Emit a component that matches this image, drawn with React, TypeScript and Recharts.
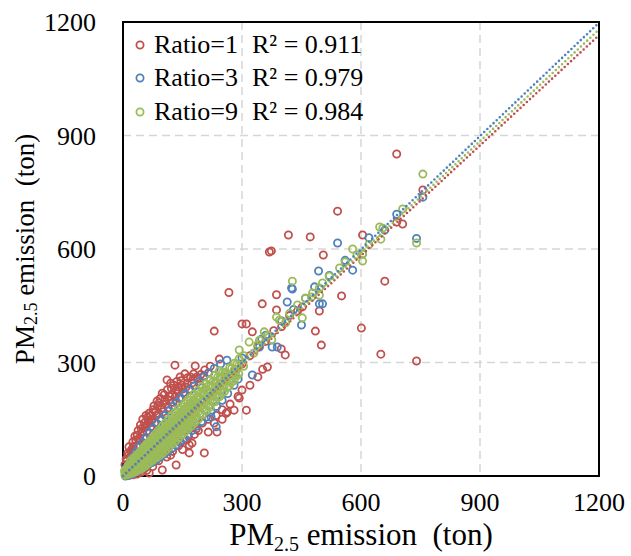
import {
  ScatterChart,
  Scatter,
  XAxis,
  YAxis,
  CartesianGrid,
  ReferenceArea,
  Legend,
} from "recharts";

const axisTicks = [0, 300, 600, 900, 1200];

const seriesNames = ["Ratio=1", "Ratio=3", "Ratio=9"];
const rSquared = ["R² = 0.911", "R² = 0.979", "R² = 0.984"];
const seriesColors = ["#C0504D", "#4F81BD", "#9BBB59"];

// Ratio=1 (red): wide cloud around the diagonal
const ratio1: [number, number][] = [
  [10, 10], [25, 25], [45, 45], [60, 62], [80, 78], [100, 102], [120, 118], [140, 142],
  [160, 158], [180, 182], [200, 198], [220, 222], [240, 238], [260, 262], [280, 276],
  [300, 296], [320, 318], [340, 342], [360, 356], [380, 384], [400, 395], [420, 424], [440, 436],
  [5, 30], [8, 45], [12, 60], [15, 77], [18, 50], [22, 70], [25, 90], [28, 62], [30, 105],
  [34, 80], [38, 120], [40, 95], [44, 135], [48, 114], [50, 150], [52, 100], [55, 128],
  [58, 160], [60, 118], [64, 145], [66, 166], [70, 130], [73, 148], [76, 175], [80, 140],
  [84, 160], [88, 185], [91, 193], [95, 150], [99, 219], [102, 170], [106, 200], [111, 254],
  [114, 180], [118, 210], [122, 232], [126, 195], [131, 293], [134, 227], [139, 235],
  [142, 205], [146, 252], [149, 240], [152, 220], [159, 235], [163, 260], [168, 230],
  [174, 246], [176, 256], [182, 291], [186, 262], [194, 240], [204, 265], [215, 272],
  [10, 40], [14, 55], [20, 65], [26, 78], [32, 95], [36, 108], [42, 100], [46, 125],
  [50, 118], [54, 140], [58, 132], [62, 155], [66, 140], [70, 160], [74, 150], [78, 185],
  [82, 172], [86, 198], [90, 165], [94, 205], [98, 180], [104, 215], [108, 190], [112, 228],
  [116, 200], [120, 245], [124, 215], [128, 240], [132, 210], [136, 250], [140, 222],
  [144, 262], [150, 230], [156, 270], [162, 245], [170, 262], [178, 270], [188, 258],
  [196, 268], [206, 280], [220, 290],
  [243, 309], [230, 383], [267, 485], [300, 402], [311, 402], [326, 381], [351, 455],
  [364, 288], [369, 592], [387, 479], [399, 336], [409, 320],
  [15, 2], [25, 3], [35, 5], [45, 10], [60, 15], [75, 25], [90, 40], [110, 50], [125, 65],
  [145, 88], [165, 105], [185, 125], [200, 140], [215, 150], [235, 160], [250, 175],
  [270, 190], [290, 210],
  [20, 5], [30, 8], [40, 12], [55, 20], [66, 8], [70, 35], [85, 45], [99, 16], [105, 60],
  [120, 55], [134, 29], [140, 80], [150, 70], [160, 95], [167, 61], [167, 82], [174, 87],
  [180, 110], [190, 120], [205, 61], [215, 116], [237, 116], [230, 140], [250, 150],
  [260, 166], [263, 169], [280, 174], [293, 206], [300, 227], [311, 174], [320, 240],
  [340, 262], [352, 282],
  [387, 439], [417, 637], [452, 447], [472, 632], [485, 383], [495, 436], [500, 346],
  [505, 584], [541, 700], [551, 476], [601, 391], [604, 637], [650, 322], [660, 515],
  [690, 671], [690, 851], [705, 666], [740, 304], [756, 756], [374, 595],
];

// Ratio=3 (blue)
const ratio3: [number, number][] = [
  [6, 0], [8, 22], [14, 2], [16, 34], [24, 6], [24, 48], [34, 12], [32, 62], [44, 18],
  [40, 76], [54, 24], [50, 88], [64, 30], [58, 102], [74, 36], [66, 114], [84, 42],
  [76, 126], [94, 50], [86, 138], [104, 58], [96, 150], [114, 66], [106, 160], [124, 74],
  [116, 172], [134, 82], [126, 184], [144, 92], [136, 194], [154, 100], [146, 206],
  [164, 110], [156, 216], [174, 120], [168, 226], [186, 132], [180, 238], [198, 144],
  [192, 250], [210, 156], [204, 262], [222, 156], [235, 130], [222, 170], [216, 272],
  [236, 184], [230, 284], [250, 200], [246, 296], [264, 218], [262, 306], [280, 240],
  [290, 256], [300, 312], [326, 267], [344, 341], [376, 341], [389, 341], [350, 362],
  [360, 372], [400, 410], [414, 460], [425, 497], [427, 494], [430, 440], [450, 399],
  [460, 470], [483, 500], [493, 542], [495, 455], [503, 455], [520, 530], [541, 616],
  [560, 570], [579, 544], [604, 587], [620, 630], [660, 650], [690, 692], [740, 628],
  [756, 737],
];

// Ratio=9 (green): dense band along the diagonal
const ratio9: [number, number][] = [
  [5, 2], [5, 8], [4, 14], [12, 4], [12, 12], [12, 20], [13, 27],
  [20, 8], [20, 16], [20, 24], [21, 32], [19, 40], [28, 12], [28, 22], [28, 30], [29, 40], [27, 48],
  [36, 16], [36, 28], [36, 38], [37, 48], [35, 56], [44, 20], [44, 34], [44, 46], [45, 56], [43, 64],
  [52, 26], [52, 40], [52, 54], [53, 64], [51, 74], [60, 30], [60, 46], [60, 60], [61, 72], [59, 84],
  [68, 36], [68, 52], [68, 68], [69, 80], [67, 92], [76, 42], [76, 58], [76, 76], [77, 90], [75, 102],
  [84, 48], [84, 66], [84, 84], [85, 98], [83, 112], [92, 54], [92, 72], [92, 92], [93, 108], [91, 122],
  [100, 60], [100, 80], [100, 100], [101, 116], [99, 132], [108, 68], [108, 88], [108, 108], [109, 124],
  [107, 140], [116, 76], [116, 96], [116, 116], [117, 132], [115, 150], [124, 84], [124, 104],
  [124, 124], [125, 142], [123, 160], [132, 92], [132, 112], [132, 132], [133, 150], [131, 168],
  [140, 100], [140, 120], [140, 140], [141, 158], [139, 176], [148, 108], [148, 128], [148, 148],
  [149, 166], [147, 184], [156, 116], [156, 136], [156, 156], [157, 174], [155, 192], [164, 124],
  [164, 144], [164, 164], [165, 182], [163, 200], [172, 132], [172, 152], [172, 172], [173, 190],
  [171, 208], [180, 140], [180, 160], [180, 180], [181, 198], [179, 216], [190, 150], [190, 170],
  [190, 190], [191, 208], [189, 226], [200, 162], [200, 180], [200, 200], [201, 218], [199, 236],
  [210, 172], [210, 190], [210, 210], [211, 228], [209, 244], [220, 182], [220, 200], [220, 220],
  [221, 238], [219, 254], [232, 196], [232, 214], [232, 232], [233, 250], [231, 266], [244, 210],
  [244, 226], [244, 244], [245, 262], [243, 278], [256, 224], [256, 240], [256, 256], [257, 274],
  [268, 238], [268, 252], [268, 268], [269, 286], [280, 252], [280, 266], [280, 280], [281, 298],
  [292, 270], [292, 292], [293, 310], [304, 290], [305, 318],
  [8, 4], [8, 11], [9, 18], [16, 6], [16, 14], [16, 22], [17, 30], [24, 8], [24, 19], [24, 30],
  [25, 40], [32, 12], [32, 25], [32, 39], [33, 50], [40, 16], [40, 31], [40, 47], [41, 60],
  [48, 20], [48, 37], [48, 55], [49, 70], [56, 26], [56, 45], [56, 63], [57, 79], [64, 34],
  [64, 54], [64, 72], [65, 88], [72, 42], [72, 62], [72, 80], [73, 96], [80, 50], [80, 70],
  [80, 88], [81, 104], [88, 58], [88, 78], [88, 96], [89, 112], [96, 66], [96, 86], [96, 104],
  [97, 120], [104, 74], [104, 94], [104, 112], [105, 128], [112, 82], [112, 102], [112, 120],
  [113, 136], [120, 90], [120, 110], [120, 128], [121, 144], [128, 98], [128, 118], [128, 136],
  [129, 152], [136, 106], [136, 126], [136, 144], [137, 160], [144, 114], [144, 134], [144, 152],
  [145, 168], [152, 122], [152, 142], [152, 160], [153, 176], [160, 130], [160, 150], [160, 168],
  [161, 184], [168, 138], [168, 158], [168, 176], [169, 192], [176, 146], [176, 166], [176, 184],
  [177, 200], [185, 155], [185, 175], [185, 193], [186, 209], [195, 165], [195, 185], [195, 203],
  [196, 219], [205, 175], [205, 195], [205, 213], [206, 229], [215, 185], [215, 205], [215, 223],
  [216, 239], [226, 196], [226, 216], [226, 234], [227, 250], [238, 208], [238, 228], [238, 246],
  [239, 262], [250, 220], [250, 240], [250, 258], [251, 274], [262, 234], [262, 254], [262, 270],
  [274, 248], [274, 266], [274, 284], [286, 264], [286, 280], [287, 296],
  [318, 354], [293, 333], [344, 359], [356, 381], [387, 420], [394, 412], [330, 325],
  [340, 348], [365, 372], [375, 360], [410, 405], [420, 430], [427, 515], [440, 452],
  [452, 418], [460, 470], [475, 473], [478, 484], [495, 478], [495, 497], [503, 510],
  [520, 528], [546, 550], [560, 566], [579, 600], [590, 585], [604, 568], [604, 587],
  [620, 612], [647, 658], [650, 626], [655, 655], [705, 706], [740, 616], [756, 798],
];

// linear trendlines, endpoints at x = 0 and x = 1200
const trendX = [0, 1200];
const trendY1 = [0, 1165];
const trendY3 = [0, 1198];
const trendY9 = [0, 1180];

const toPoints = (pts: [number, number][]) => pts.map(([x, y]) => ({ x, y }));
const toTrend = (ys: number[]) => trendX.map((x, i) => ({ x, y: ys[i] }));

const serif = '"Liberation Serif", "Times New Roman", serif';

function ringShape(color: string) {
  return (props: any) => (
    <circle cx={props.cx} cy={props.cy} r={3.6} fill="none" stroke={color} strokeWidth={1.8} />
  );
}

const noShape = () => <g />;

function renderLegend() {
  return (
    <div style={{ fontFamily: serif, fontSize: 26, color: "#000" }}>
      {seriesNames.map((name, i) => (
        <div key={name} style={{ display: "flex", alignItems: "center", height: 33.5 }}>
          <svg width={12} height={12} style={{ marginRight: 8 }}>
            <circle cx={6} cy={6} r={3.6} fill="none" stroke={seriesColors[i]} strokeWidth={1.8} />
          </svg>
          <span style={{ display: "inline-block", width: 98, whiteSpace: "pre" }}>{name}</span>
          <span style={{ whiteSpace: "pre" }}>{rSquared[i]}</span>
        </div>
      ))}
    </div>
  );
}

function XTitle(props: any) {
  const vb = props.viewBox;
  return (
    <text
      x={vb.x + vb.width / 2}
      y={vb.y + 69}
      textAnchor="middle"
      fontFamily={serif}
      fontSize={31}
      fill="#000"
      style={{ whiteSpace: "pre" }}
    >
      <tspan>PM</tspan>
      <tspan fontSize={20} dy={6}>2.5</tspan>
      <tspan dy={-6}>{" emission  (ton)"}</tspan>
    </text>
  );
}

function YTitle(props: any) {
  const vb = props.viewBox;
  const cx = vb.x + 25;
  const cy = vb.y + vb.height / 2;
  return (
    <text
      x={cx}
      y={cy}
      transform={`rotate(-90, ${cx}, ${cy})`}
      textAnchor="middle"
      dominantBaseline="central"
      fontFamily={serif}
      fontSize={27}
      fill="#000"
      style={{ whiteSpace: "pre" }}
    >
      <tspan>PM</tspan>
      <tspan fontSize={18} dy={6}>2.5</tspan>
      <tspan dy={-6}>{" emission  (ton)"}</tspan>
    </text>
  );
}

export default function App() {
  const tickStyle = { fontSize: 26, fill: "#000", fontFamily: serif };
  return (
    <div style={{ width: 631, height: 556, background: "#fff" }}>
      <style>{`body { margin: 0; }`}</style>
      <ScatterChart
        width={631}
        height={556}
        margin={{ top: 22, right: 32, bottom: 0, left: 0 }}
        style={{ fontFamily: serif }}
      >
        <CartesianGrid stroke="#D6D6D6" strokeWidth={1.5} strokeDasharray="8 5" />
        <XAxis
          type="number"
          dataKey="x"
          domain={[0, 1200]}
          ticks={axisTicks}
          height={80}
          tickLine={false}
          axisLine={false}
          tickSize={0}
          tickMargin={17}
          tick={tickStyle}
          interval={0}
          label={{ content: XTitle }}
        />
        <YAxis
          type="number"
          dataKey="y"
          domain={[0, 1200]}
          ticks={axisTicks}
          width={123}
          tickLine={false}
          axisLine={false}
          tickSize={0}
          tickMargin={27}
          tick={tickStyle}
          interval={0}
          label={{ content: YTitle }}
        />
        <Scatter data={toPoints(ratio1)} shape={ringShape(seriesColors[0])} isAnimationActive={false} />
        <Scatter data={toPoints(ratio3)} shape={ringShape(seriesColors[1])} isAnimationActive={false} />
        <Scatter data={toPoints(ratio9)} shape={ringShape(seriesColors[2])} isAnimationActive={false} />
        <Scatter
          data={toTrend(trendY1)}
          shape={noShape}
          line={{ stroke: seriesColors[0], strokeWidth: 2.6, strokeDasharray: "0 4.3", strokeLinecap: "round" }}
          isAnimationActive={false}
        />
        <Scatter
          data={toTrend(trendY9)}
          shape={noShape}
          line={{ stroke: seriesColors[2], strokeWidth: 2.6, strokeDasharray: "0 4.3", strokeLinecap: "round" }}
          isAnimationActive={false}
        />
        <Scatter
          data={toTrend(trendY3)}
          shape={noShape}
          line={{ stroke: seriesColors[1], strokeWidth: 2.6, strokeDasharray: "0 4.3", strokeLinecap: "round" }}
          isAnimationActive={false}
        />
        <ReferenceArea
          x1={0}
          x2={1200}
          y1={0}
          y2={1200}
          fill="none"
          stroke="#000"
          strokeWidth={2}
          ifOverflow="visible"
        />
        <Legend
          content={renderLegend}
          layout="horizontal"
          verticalAlign="middle"
          align="center"
          wrapperStyle={{ top: 28, left: 134, width: 330 }}
        />
      </ScatterChart>
    </div>
  );
}
